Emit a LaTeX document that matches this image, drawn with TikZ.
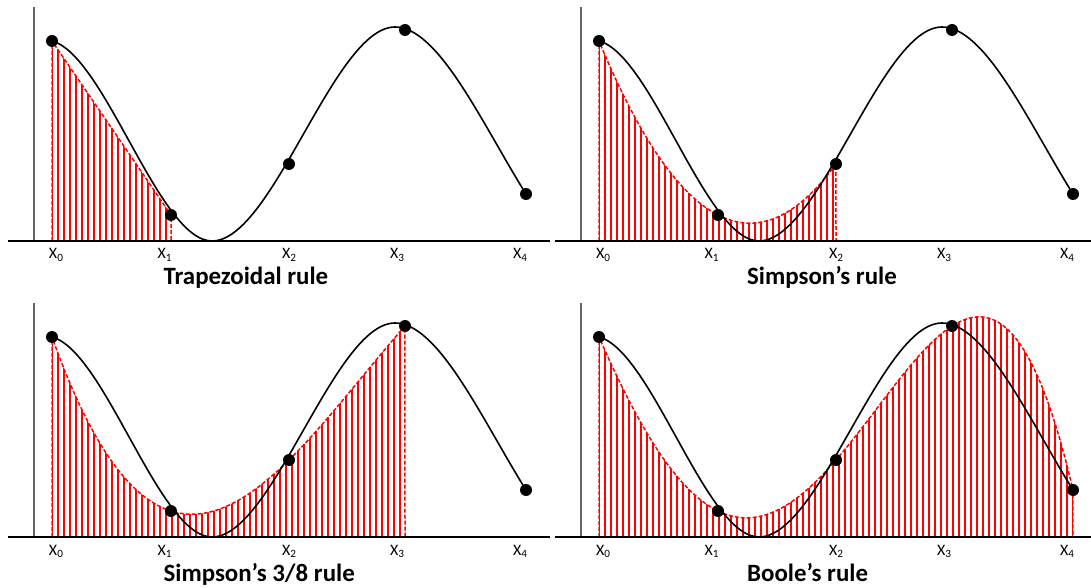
\documentclass[tikz,border=0pt]{standalone}
\usepackage{fontspec}
\setmainfont{Carlito}
\newcommand\hatched[1]{%
  \begin{scope}
    \clip #1;
    \foreach \hx in {52,58,...,532}{\draw[hatchline] (\hx,0) -- (\hx,245);}
  \end{scope}
  \draw[redline] #1;}
\newcommand\basepanel[2]{%
  \draw[yaxis] (34,7) -- (34,241);
  \draw[xaxis] (8,241) -- (550,241);
  \draw[curve] (52,41) .. controls (105,55) and (159,241) .. (212,241)
     .. controls (273,241) and (334,27) .. (395,27)
     .. controls (438.7,27) and (482.3,124) .. (526,194);
  \node[dot] (d0) at (52,41) {};
  \node[dot] (d1) at (171,215) {};
  \node[dot] (d2) at (289,164) {};
  \node[dot] (d3) at (405,30) {};
  \node[dot] (d4) at (526,194) {};
  \node[xlab] (l0) at (48.8,259) {X\textsubscript{0}};
  \node[xlab] (l1) at (157.3,259) {X\textsubscript{1}};
  \node[xlab] (l2) at (281.8,259) {X\textsubscript{2}};
  \node[xlab] (l3) at (389.8,259) {X\textsubscript{3}};
  \node[xlab] (l4) at (512.8,259) {X\textsubscript{4}};
  \node[ttl] (t) at (#1,285) {#2};}
\begin{document}
\begin{tikzpicture}[x=1bp,y=-1bp,
  declare function={
    qs(\u)=14.5375*(\u-1.71)*(\u-2.89) - 153.112*(\u-0.52)*(\u-2.89) + 58.643*(\u-0.52)*(\u-1.71);
    cs(\u)=-4.1182*(\u-1.71)*(\u-2.89)*(\u-4.05) + 65.433*(\u-0.52)*(\u-2.89)*(\u-4.05) - 50.553*(\u-0.52)*(\u-1.71)*(\u-4.05) + 3.1309*(\u-0.52)*(\u-1.71)*(\u-2.89);
    bs(\u)=0.86883*(\u-1.71)*(\u-2.89)*(\u-4.05)*(\u-5.26) - 18.432*(\u-0.52)*(\u-2.89)*(\u-4.05)*(\u-5.26) + 21.331*(\u-0.52)*(\u-1.71)*(\u-4.05)*(\u-5.26) - 2.5876*(\u-0.52)*(\u-1.71)*(\u-2.89)*(\u-5.26) + 4.0203*(\u-0.52)*(\u-1.71)*(\u-2.89)*(\u-4.05);
  },
  curve/.style={line width=1.6bp, black},
  yaxis/.style={line width=1.3bp, black!60},
  xaxis/.style={line width=1.3bp, black},
  redline/.style={red, line width=1.5bp, dash pattern=on 4bp off 2bp},
  hatchline/.style={red, line width=1.6bp},
  dot/.style={circle, fill=black, inner sep=0pt, minimum size=12bp},
  xlab/.style={anchor=base west, inner sep=0pt, font=\fontsize{16}{16}\selectfont},
  ttl/.style={anchor=base west, inner sep=0pt, font=\bfseries\fontsize{25}{25}\selectfont}]
\useasboundingbox (0,0) rectangle (1091,588);
\fill[white] (0,0) rectangle (1091,588);
% Trapezoidal
\begin{scope}[name prefix=a-]
  \hatched{(52,241) -- (52,41) -- (171,215) -- (171,241) -- cycle}
  \basepanel{163.4}{Trapezoidal rule}
\end{scope}
% Simpson
\begin{scope}[shift={(547,0)}, name prefix=b-]
  \hatched{(52,241) -- (52,41) -- plot[variable=\u, domain=0.52:2.89, samples=60] ({100*\u},{qs(\u)}) -- (289,241) -- cycle}
  \basepanel{200}{Simpson’s rule}
\end{scope}
% Simpson 3/8
\begin{scope}[shift={(0,296)}, name prefix=c-]
  \hatched{(52,241) -- (52,41) -- plot[variable=\u, domain=0.52:4.05, samples=80] ({100*\u},{cs(\u)}) -- (405,241) -- cycle}
  \basepanel{163.4}{Simpson’s 3/8 rule}
\end{scope}
% Boole
\begin{scope}[shift={(547,296)}, name prefix=d-]
  \hatched{(52,241) -- (52,41) -- plot[variable=\u, domain=0.52:5.26, samples=110] ({100*\u},{bs(\u)}) -- (526,241) -- cycle}
  \basepanel{200}{Boole’s rule}
\end{scope}
\end{tikzpicture}
\end{document}
